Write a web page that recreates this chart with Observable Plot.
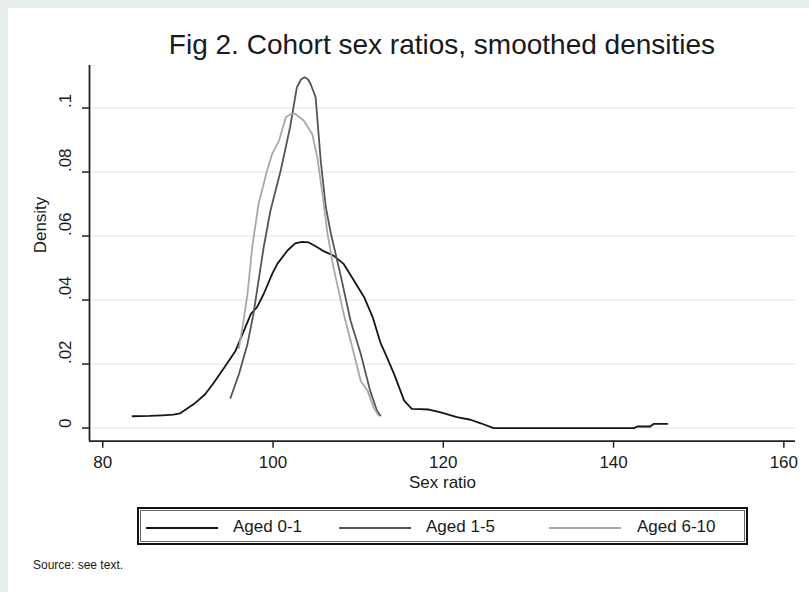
<!DOCTYPE html>
<html><head><meta charset="utf-8">
<script src="https://cdn.jsdelivr.net/npm/d3@7"></script>
<script src="https://cdn.jsdelivr.net/npm/@observablehq/plot@0.6"></script>
<style>
html,body{margin:0;padding:0;background:#fff;}
#wrap{position:relative;width:809px;height:592px;background:#fff;font-family:"Liberation Sans",Arial,sans-serif;color:#1a1a1a;overflow:hidden;}
#bandT{position:absolute;left:0;top:0;width:809px;height:8px;background:#e9efef;}
#bandL{position:absolute;left:0;top:0;width:8px;height:592px;background:#e9efef;}
#chart{position:absolute;left:0;top:0;}
#title{position:absolute;left:89px;width:706px;top:29px;text-align:center;font-size:28px;line-height:32px;white-space:nowrap;}
#legend{position:absolute;left:137px;top:507px;width:607px;height:34px;border:2px solid #111;box-shadow:inset 0 0 0 1px #fff,inset 0 0 0 2px #666;}
.key{position:absolute;top:18px;height:2px;}
.lab{position:absolute;top:8px;font-size:17px;line-height:20px;white-space:nowrap;}
#source{position:absolute;left:33px;top:558px;font-size:12px;line-height:14px;white-space:nowrap;}
</style></head>
<body>
<div id="wrap">
  <div id="bandT"></div><div id="bandL"></div>
  <div id="chart"></div>
  <div id="title"></div>
  <div id="legend"></div>
  <div id="source"></div>
</div>
<script>
const titleText = "Fig 2. Cohort sex ratios, smoothed densities";
const xLabel = "Sex ratio";
const yLabel = "Density";
const sourceText = "Source: see text.";
const xTicks = [80, 100, 120, 140, 160];
const yTicks = [0, 0.02, 0.04, 0.06, 0.08, 0.1];
const yTickLabels = ["0", ".02", ".04", ".06", ".08", ".1"];
const series = ["Aged 0-1", "Aged 1-5", "Aged 6-10"];
const seriesColors = ["#151515", "#555555", "#a8a8a8"];

const x01 = [83.5, 85.5, 87.0, 88.3, 89.1, 90.7, 92.0, 93.0, 94.3, 95.6, 96.4, 97.4, 98.1, 98.9, 99.9, 100.5, 101.7, 102.6, 103.4, 104.2, 105.2, 106.0, 107.1, 108.3, 109.5, 110.7, 111.7, 112.6, 113.2, 114.2, 115.4, 116.3, 117.2, 118.3, 119.7, 121.6, 123.2, 124.4, 125.9, 130, 135, 142.4, 142.8, 144.3, 144.7, 146.3];
const y01 = [0.0037, 0.0038, 0.0040, 0.0042, 0.0046, 0.0075, 0.0105, 0.0140, 0.0190, 0.0242, 0.0293, 0.0357, 0.0377, 0.0419, 0.0482, 0.0513, 0.0555, 0.0577, 0.0582, 0.0580, 0.0565, 0.0552, 0.0539, 0.0513, 0.0461, 0.0409, 0.0347, 0.0268, 0.0232, 0.0170, 0.0086, 0.0060, 0.0059, 0.0058, 0.0049, 0.0034, 0.0026, 0.0015, 0, 0, 0, 0, 0.0005, 0.0005, 0.0013, 0.0013];

const x15 = [95.0, 96.0, 97.0, 97.7, 98.9, 99.7, 100.9, 102.0, 102.8, 103.3, 103.7, 104.1, 104.4, 105.0, 105.6, 106.2, 106.8, 107.9, 109.1, 110.3, 111.4, 112.2, 112.6];
const y15 = [0.0094, 0.0169, 0.0263, 0.0357, 0.0565, 0.0680, 0.0805, 0.0940, 0.1065, 0.1090, 0.1096, 0.1090, 0.1076, 0.1034, 0.0836, 0.0690, 0.0607, 0.0482, 0.0336, 0.0232, 0.0117, 0.0055, 0.0039];

const x610 = [96.0, 96.5, 97.0, 97.55, 98.3, 99.3, 99.9, 100.7, 101.5, 102.0, 102.6, 103.6, 104.6, 105.2, 105.8, 106.4, 107.1, 108.3, 109.5, 110.3, 111.1, 111.8, 112.4];
const y610 = [0.0250, 0.0330, 0.0419, 0.0565, 0.0701, 0.0805, 0.0857, 0.0898, 0.0971, 0.0980, 0.0982, 0.0961, 0.0919, 0.0846, 0.0732, 0.0607, 0.0502, 0.0357, 0.0232, 0.0148, 0.0117, 0.0065, 0.0039];

const xDomain = [78.44, 161.37];
const yDomain = [-0.0041, 0.1133];

const rows = [];
[[x01, y01], [x15, y15], [x610, y610]].forEach(([xs, ys], i) => {
  xs.forEach((x, j) => rows.push({series: series[i], x, y: ys[j]}));
});

const plot = Plot.plot({
  width: 809, height: 592,
  marginLeft: 89, marginRight: 14, marginTop: 65, marginBottom: 151.3,
  x: {domain: xDomain},
  y: {domain: yDomain},
  color: {domain: series, range: seriesColors},
  style: {background: "transparent", fontFamily: "Liberation Sans, Arial, sans-serif", color: "#1a1a1a", overflow: "visible"},
  marks: [
    Plot.gridY(yTicks, {stroke: "#e3eef0", strokeOpacity: 1, strokeWidth: 1.5}),
    Plot.line(rows, {x: "x", y: "y", z: "series", stroke: "series", strokeWidth: 1.8}),
    Plot.ruleX([xDomain[0]], {stroke: "#222", strokeWidth: 1.8}),
    Plot.ruleY([yDomain[0]], {stroke: "#222", strokeWidth: 1.8}),
    Plot.axisY(yTicks, {tickSize: 7, tickFormat: () => "", stroke: "#222", strokeWidth: 1.5, label: null}),
    Plot.text(yTicks, {y: d => d, text: (d, i) => yTickLabels[i], frameAnchor: "left", dx: -24, rotate: -90, fontSize: 17, fill: "#1a1a1a"}),
    Plot.axisX(xTicks, {tickSize: 7, tickPadding: 8, fontSize: 17, label: null, stroke: "#222", strokeWidth: 1.5, fill: "#1a1a1a"}),
    Plot.text([xLabel], {frameAnchor: "bottom", dy: 47, fontSize: 17, fill: "#1a1a1a"}),
    Plot.text([yLabel], {frameAnchor: "left", dx: -49, rotate: -90, fontSize: 17, fill: "#1a1a1a"})
  ]
});
document.getElementById("chart").appendChild(plot);
document.getElementById("title").textContent = titleText;
document.getElementById("source").textContent = sourceText;

const legend = document.getElementById("legend");
const keyLeft = [7, 200, 410];
const labLeft = [94, 287, 498];
series.forEach((s, i) => {
  const k = document.createElement("div");
  k.className = "key";
  k.style.left = keyLeft[i] + "px";
  k.style.width = "72px";
  k.style.background = seriesColors[i];
  legend.appendChild(k);
  const l = document.createElement("div");
  l.className = "lab";
  l.style.left = labLeft[i] + "px";
  l.textContent = s;
  legend.appendChild(l);
});
</script>
</body></html>
